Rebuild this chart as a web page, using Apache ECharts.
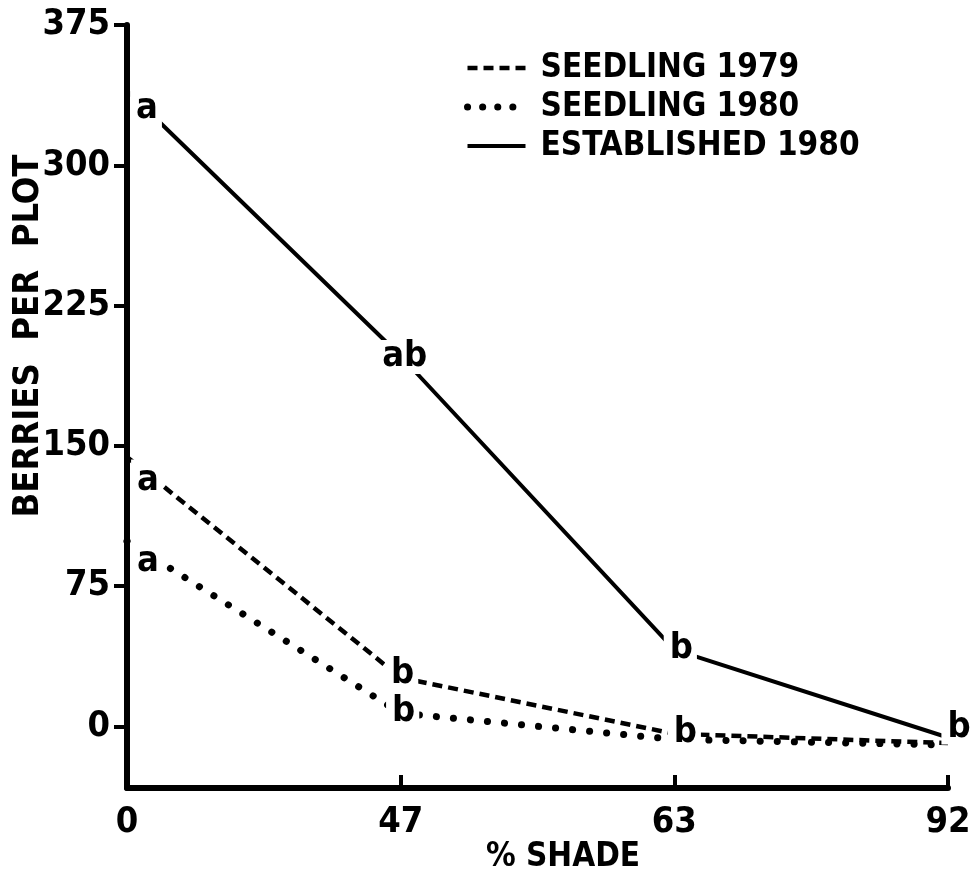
<!DOCTYPE html>
<html>
<head>
<meta charset="utf-8">
<script src="https://cdn.jsdelivr.net/npm/echarts@6/dist/echarts.min.js"></script>
<style>
html,body{margin:0;padding:0;background:#fff;}
#chart{width:974px;height:886px;}
</style>
</head>
<body>
<div id="chart"></div>
<script>
// ---- data ----
const categories = ['0', '47', '63', '92'];
const yTicks = [0, 75, 150, 225, 300, 375];
const seriesNames = ['SEEDLING 1979', 'SEEDLING 1980', 'ESTABLISHED 1980'];
const seedling1979 = [144, 26, -4, -9];
const seedling1980 = [99, 7, -7, -10];
const established1980 = [340, 198, 41, -6];
const letters1979 = ['a', 'b', 'b', ''];
const letters1980 = ['a', 'b', '', ''];
const lettersEst = ['a', 'ab', 'b', 'b'];
const yAxisTitle = 'BERRIES  PER  PLOT';
const xAxisTitle = '% SHADE';

// ---- styling ----
const FONT = "'DejaVu Sans Condensed', 'Liberation Sans Narrow', 'DejaVu Sans', sans-serif";
const labelOffsets1979 = [[20, 24], [1, -4], [10, -1], [0, 0]];
const labelOffsets1980 = [[20, 20], [2, -2], [0, 0], [0, 0]];
const labelOffsetsEst = [[19, 18], [3, 1], [6, -1], [10, -10]];
const lineStyles = [
  {color: '#000', width: 4.5, type: [10, 6]},
  {color: '#000', width: 7, type: [0.1, 17], cap: 'round'},
  {color: '#000', width: 4}
];

function buildData(values, letters, offsets) {
  return values.map((v, i) => {
    if (!letters[i]) return v;
    return {
      value: v,
      symbol: 'circle',
      symbolSize: 1,
      label: {
        show: true,
        position: 'inside',
        formatter: letters[i],
        offset: offsets[i],
        fontFamily: FONT,
        fontWeight: 'bold',
        fontSize: 36,
        lineHeight: 34,
        color: '#000',
        backgroundColor: '#fff',
        padding: i === 0 ? [9, 4, 0, 6] : [0, 4, 0, 6]
      }
    };
  });
}

const chart = echarts.init(document.getElementById('chart'), null, {renderer: 'canvas'});
const option = {
  backgroundColor: '#fff',
  animation: false,
  grid: {left: 127, right: 26, top: 25, bottom: 98, containLabel: false},
  legend: {
    orient: 'vertical',
    left: 459,
    top: 46,
    itemWidth: 58,
    itemHeight: 20,
    itemGap: 5,
    data: seriesNames.map((n, i) => ({
      name: n,
      itemStyle: {opacity: 0},
      lineStyle: i === 1 ? {color: '#000', width: 7, type: [0.1, 15], cap: 'round'} : lineStyles[i]
    })),
    textStyle: {
      fontFamily: FONT, fontWeight: 'bold', fontSize: 33, color: '#000',
      lineHeight: 34, padding: [0, 0, 0, 10]
    }
  },
  xAxis: {
    type: 'category',
    data: categories,
    boundaryGap: false,
    axisLine: {onZero: false, lineStyle: {color: '#000', width: 6}},
    axisTick: {show: true, inside: true, length: 13, lineStyle: {color: '#000', width: 4}},
    axisLabel: {margin: 17, fontFamily: FONT, fontWeight: 'bold', fontSize: 36, color: '#000'},
    splitLine: {show: false}
  },
  yAxis: {
    type: 'value',
    min: -33,
    max: 375,
    axisLine: {show: true, lineStyle: {color: '#000', width: 6}},
    axisTick: {show: true, length: 13, customValues: yTicks, lineStyle: {color: '#000', width: 4}},
    axisLabel: {margin: 17, customValues: yTicks, fontFamily: FONT, fontWeight: 'bold', fontSize: 36, color: '#000'},
    splitLine: {show: false}
  },
  graphic: [
    {
      type: 'text', x: 29, y: 336, rotation: Math.PI / 2,
      style: {text: yAxisTitle, fontFamily: FONT, fontWeight: 'bold', fontSize: 36, fill: '#000',
              align: 'center', verticalAlign: 'middle'}
    },
    {
      type: 'text', x: 563, y: 857,
      style: {text: xAxisTitle, fontFamily: FONT, fontWeight: 'bold', fontSize: 33, fill: '#000',
              align: 'center', verticalAlign: 'middle'}
    }
  ],
  series: [
    {
      name: seriesNames[0], type: 'line', symbol: 'none', z: 3,
      lineStyle: lineStyles[0],
      itemStyle: {color: '#000'},
      data: buildData(seedling1979, letters1979, labelOffsets1979)
    },
    {
      name: seriesNames[1], type: 'line', symbol: 'none', z: 3,
      lineStyle: lineStyles[1],
      itemStyle: {color: '#000'},
      data: buildData(seedling1980, letters1980, labelOffsets1980)
    },
    {
      name: seriesNames[2], type: 'line', symbol: 'none', z: 3,
      lineStyle: lineStyles[2],
      itemStyle: {color: '#000'},
      data: buildData(established1980, lettersEst, labelOffsetsEst)
    }
  ]
};
chart.setOption(option);
</script>
</body>
</html>
